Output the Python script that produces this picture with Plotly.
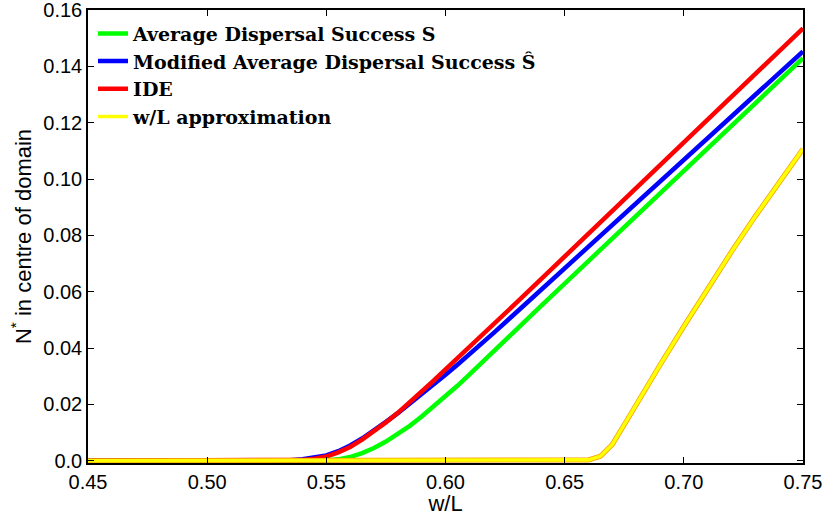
import plotly.graph_objects as go

# Equilibrium density N* in the centre of the domain versus w/L
w_over_L = [0.45, 0.50, 0.52, 0.53, 0.535, 0.54, 0.545, 0.55, 0.555, 0.56, 0.565,
            0.57, 0.575, 0.58, 0.585, 0.59, 0.595, 0.60, 0.605, 0.61, 0.615, 0.62,
            0.63, 0.64, 0.65, 0.66, 0.67, 0.68, 0.69, 0.70, 0.71, 0.72, 0.73, 0.74, 0.75]

avg_dispersal = [0, 0, 0, 0, 0, 0, 0, 0.0001, 0.0005, 0.0013, 0.0027,
                 0.0045, 0.0068, 0.0094, 0.0124, 0.0157, 0.0192, 0.0228, 0.0266, 0.0306, 0.0347, 0.0389,
                 0.0469, 0.0549, 0.0629, 0.0709, 0.0789, 0.0869, 0.0949, 0.1029, 0.1109, 0.1189, 0.1269, 0.1349, 0.1429]

mod_avg_dispersal = [0, 0, 0, 0.0001, 0.0002, 0.0005, 0.0010, 0.0019, 0.0034, 0.0054, 0.0079,
                     0.0107, 0.0138, 0.0169, 0.0202, 0.0236, 0.0270, 0.0305, 0.0341, 0.0377, 0.0414, 0.0452,
                     0.0529, 0.0606, 0.0683, 0.0760, 0.0837, 0.0914, 0.0991, 0.1068, 0.1145, 0.1222, 0.1299, 0.1376, 0.1453]

ide = [0, 0, 0, 0, 0.0001, 0.0003, 0.0007, 0.0015, 0.0030, 0.0049, 0.0075,
       0.0104, 0.0136, 0.0170, 0.0207, 0.0245, 0.0284, 0.0324, 0.0363, 0.0403, 0.0442, 0.0482,
       0.0563, 0.0644, 0.0725, 0.0806, 0.0887, 0.0968, 0.1049, 0.1130, 0.1211, 0.1292, 0.1373, 0.1454, 0.1535]

approx_x = [0.45, 0.60, 0.655, 0.66, 0.665, 0.67, 0.675, 0.68, 0.69, 0.70, 0.71, 0.72, 0.73, 0.74, 0.75]
approx_y = [0, 0, 0, 0.0003, 0.0016, 0.0058, 0.0128, 0.0200, 0.0340, 0.0477, 0.0612, 0.0742, 0.0868, 0.0990, 0.1107]

x_ticks = [0.45, 0.50, 0.55, 0.60, 0.65, 0.70, 0.75]
x_tick_text = ["0.45", "0.50", "0.55", "0.60", "0.65", "0.70", "0.75"]
y_ticks = [0, 0.02, 0.04, 0.06, 0.08, 0.10, 0.12, 0.14, 0.16]
y_tick_text = ["0.0", "0.02", "0.04", "0.06", "0.08", "0.10", "0.12", "0.14", "0.16"]

LW = 4.5
fig = go.Figure()
fig.add_trace(go.Scatter(x=w_over_L, y=avg_dispersal, mode="lines",
                         line=dict(color="#00ff00", width=LW),
                         name="<b>Average Dispersal Success S</b>"))
fig.add_trace(go.Scatter(x=w_over_L, y=mod_avg_dispersal, mode="lines",
                         line=dict(color="#0000ff", width=LW),
                         name="<b>Modified Average Dispersal Success Ŝ</b>"))
fig.add_trace(go.Scatter(x=w_over_L, y=ide, mode="lines",
                         line=dict(color="#ff0000", width=LW),
                         name="<b>IDE</b>"))
# thin orange rim under the yellow approximation curve
fig.add_trace(go.Scatter(x=approx_x, y=approx_y, mode="lines",
                         line=dict(color="#f59a00", width=5), showlegend=False,
                         hoverinfo="skip"))
fig.add_trace(go.Scatter(x=approx_x, y=approx_y, mode="lines",
                         line=dict(color="#ffff00", width=3.6),
                         name="<b>w/L approximation</b>"))

sans = "Liberation Sans, Arial, sans-serif"
axis_font = dict(family=sans, size=20, color="black")

fig.update_layout(
    width=825, height=516,
    margin=dict(l=88, r=22, t=10, b=53),
    paper_bgcolor="white", plot_bgcolor="white",
    font=axis_font,
    showlegend=True,
    legend=dict(x=0.007, y=0.99, xanchor="left", yanchor="top",
                bgcolor="rgba(0,0,0,0)", borderwidth=0,
                font=dict(family="DejaVu Serif, serif", size=19, color="black"),
                itemwidth=30),
    xaxis=dict(range=[0.45, 0.75], tickvals=x_ticks, ticktext=x_tick_text,
               showgrid=False, zeroline=False, showline=True, linecolor="black",
               linewidth=1.5, mirror="ticks", ticks="inside", ticklen=6,
               tickcolor="black", tickfont=axis_font, automargin=False,
               ticklabeloverflow="allow",
               title=dict(text="w/L", font=dict(family=sans, size=22), standoff=4)),
    yaxis=dict(range=[-0.0008, 0.16], tickvals=y_ticks, ticktext=y_tick_text,
               showgrid=False, zeroline=False, showline=True, linecolor="black",
               linewidth=1.5, mirror="ticks", ticks="inside", ticklen=6,
               tickcolor="black", tickfont=axis_font, automargin=False,
               ticklabeloverflow="allow",
               title=dict(text="N<sup>*</sup> in centre of domain",
                          font=dict(family=sans, size=22), standoff=6)),
)

fig.write_html("out.html")
